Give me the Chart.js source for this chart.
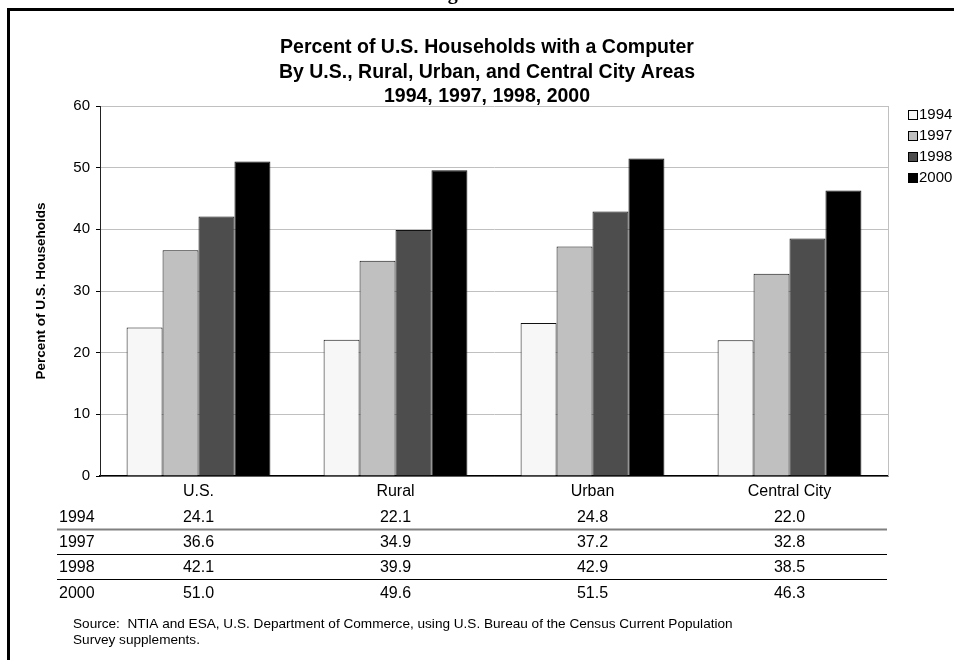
<!DOCTYPE html>
<html>
<head>
<meta charset="utf-8">
<script src="https://cdn.jsdelivr.net/npm/chart.js@4.4.1/dist/chart.umd.min.js"></script>
<style>
    html, body { margin: 0; padding: 0; background: #fff; }
    #wrap { width: 954px; height: 660px; position: relative; }
</style>
</head>
<body>
<div id="wrap"><canvas id="chart" width="954" height="660"></canvas></div>
<script>
    // data
    const categories = ['U.S.', 'Rural', 'Urban', 'Central City'];
    const years = ['1994', '1997', '1998', '2000'];
    const values1994 = [24.1, 22.1, 24.8, 22.0];
    const values1997 = [36.6, 34.9, 37.2, 32.8];
    const values1998 = [42.1, 39.9, 42.9, 38.5];
    const values2000 = [51.0, 49.6, 51.5, 46.3];
    const yMin = 0, yMax = 60, yStep = 10;

    const series = [values1994, values1997, values1998, values2000];
    const fills = ['#f7f7f7', '#c0c0c0', '#4d4d4d', '#000000'];
    const titleLines = [
        'Percent of U.S. Households with a Computer',
        'By U.S., Rural, Urban, and Central City Areas',
        '1994, 1997, 1998, 2000'
    ];
    const sourceLines = [
        'Source:  NTIA and ESA, U.S. Department of Commerce, using U.S. Bureau of the Census Current Population',
        'Survey supplements.'
    ];
    const FONT = '"Liberation Sans", Arial, sans-serif';

    const decorations = {
        id: 'decorations',
        beforeDraw(chart) {
            const c = chart.ctx;
            c.save();
            c.fillStyle = '#fff';
            c.fillRect(0, 0, chart.width, chart.height);
            // page frame
            c.fillStyle = '#000';
            c.fillRect(7, 8, chart.width - 7, 3);
            c.fillRect(7, 8, 3, chart.height - 8);
            // descender of the cut-off figure heading
            c.font = 'bold 20px "Liberation Serif", "Times New Roman", serif';
            c.textBaseline = 'alphabetic';
            c.textAlign = 'left';
            c.fillText('Figure', 430, -1.5);
            c.restore();
        },
        afterDraw(chart) {
            const c = chart.ctx;
            const area = chart.chartArea;
            const x = chart.scales.x;
            c.save();

            // plot area right edge
            c.strokeStyle = '#c0c0c0';
            c.lineWidth = 1;
            c.beginPath();
            c.moveTo(area.right + 0.5, area.top);
            c.lineTo(area.right + 0.5, area.bottom);
            c.stroke();

            // title
            c.fillStyle = '#000';
            c.textAlign = 'center';
            c.textBaseline = 'middle';
            c.font = 'bold 19.5px ' + FONT;
            titleLines.forEach((t, i) => c.fillText(t, 487, 48 + i * 24.5));

            // y axis title
            c.save();
            c.translate(41, 291);
            c.rotate(-Math.PI / 2);
            c.font = 'bold 13.5px ' + FONT;
            c.fillText('Percent of U.S. Households', 0, 0);
            c.restore();

            // legend
            c.textAlign = 'left';
            c.font = '15px ' + FONT;
            chart.data.datasets.forEach((ds, i) => {
                const y = 115 + i * 21;
                c.fillStyle = ds.backgroundColor;
                c.fillRect(908, y - 5, 10, 10);
                c.strokeStyle = '#000';
                c.strokeRect(908.5, y - 4.5, 9, 9);
                c.fillStyle = '#000';
                c.fillText(ds.label, 919, y);
            });

            // data table under the axis
            const rowY = [518, 543, 568, 594];
            c.font = '16px ' + FONT;
            years.forEach((yr, r) => {
                c.textAlign = 'left';
                c.fillText(yr, 59, rowY[r]);
                c.textAlign = 'center';
                series[r].forEach((v, i) => {
                    c.fillText(v.toFixed(1), x.getPixelForValue(i), rowY[r]);
                });
            });
            const rules = [[529.5, '#808080', 2], [554.5, '#000', 1.2], [579.5, '#000', 1.2]];
            rules.forEach(([y, col, w]) => {
                c.strokeStyle = col;
                c.lineWidth = w;
                c.beginPath();
                c.moveTo(57, y);
                c.lineTo(887, y);
                c.stroke();
            });

            // source note
            c.textAlign = 'left';
            c.font = '13.6px ' + FONT;
            sourceLines.forEach((t, i) => c.fillText(t, 73, 624 + i * 16));
            c.restore();
        }
    };

    new Chart(document.getElementById('chart'), {
        type: 'bar',
        data: {
            labels: categories,
            datasets: years.map((yr, i) => ({
                label: yr,
                data: series[i],
                backgroundColor: fills[i],
                borderColor: '#111',
                borderWidth: 1,
                categoryPercentage: 0.73,
                barPercentage: 1.0
            }))
        },
        options: {
            responsive: false,
            animation: false,
            layout: { padding: { left: 60, right: 66, top: 106, bottom: 154 } },
            plugins: {
                legend: { display: false },
                title: { display: false },
                tooltip: { enabled: false }
            },
            scales: {
                x: {
                    z: 2,
                    grid: { display: true, drawOnChartArea: false, drawTicks: false },
                    border: { color: '#000', width: 1.5 },
                    ticks: { color: '#000', padding: 6, font: { family: FONT, size: 16 } },
                    afterFit(scale) { scale.height = 30; }
                },
                y: {
                    z: 1,
                    min: yMin,
                    max: yMax,
                    grid: { color: '#c0c0c0', lineWidth: 1, tickLength: 4, tickColor: '#000' },
                    border: { color: '#222', width: 1 },
                    ticks: { stepSize: yStep, color: '#000', padding: 6, font: { family: FONT, size: 15 } },
                    afterFit(scale) { scale.width = 40; }
                }
            }
        },
        plugins: [decorations]
    });
</script>
</body>
</html>
